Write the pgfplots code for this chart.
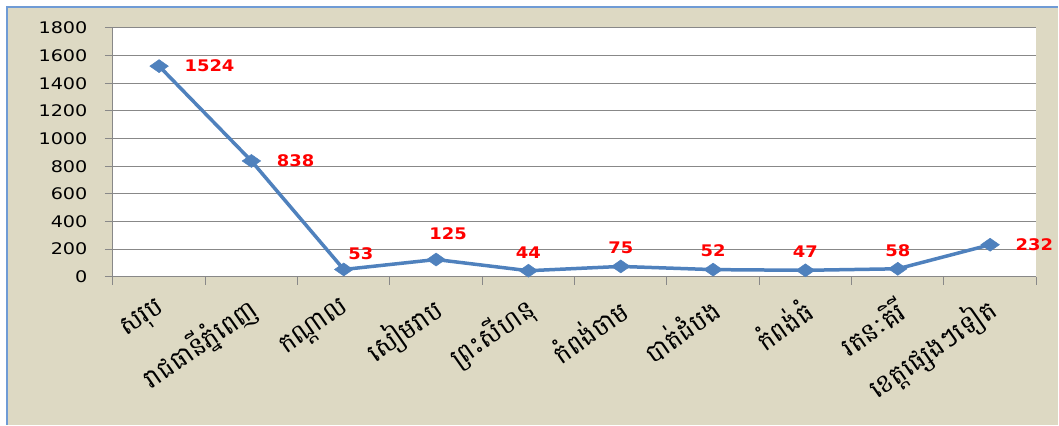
\documentclass[border=0pt]{standalone}
\usepackage{pgfplots}
\pgfplotsset{compat=1.18}
\usepackage{fontspec}
\setmainfont{DejaVu Sans}
\newfontfamily\numfont[FakeStretch=1.2]{DejaVu Sans}
\newfontfamily\lblfont[FakeStretch=1.12]{DejaVu Sans}
\newfontfamily\khmer[Script=Khmer]{Battambang}
\definecolor{bg}{HTML}{DDD9C3}
\definecolor{frame}{HTML}{6F9BD5}
\definecolor{line}{HTML}{4F81BD}
\definecolor{gridc}{HTML}{888888}
\pgfplotsset{/pgf/number format/1000 sep={}}
\begin{document}
\begin{tikzpicture}
\fill[white] (0,0) rectangle (1059pt,425pt);
\fill[bg] (7pt,0) rectangle (1059pt,418pt);
\draw[frame, line width=1.5pt] (7pt,0) -- (7pt,418pt) -- (1059pt,418pt);
\begin{axis}[
  at={(113pt,148pt)}, anchor=south west,
  scale only axis, width=924pt, height=249pt,
  xmin=-0.5, xmax=9.5, ymin=0, ymax=1800,
  ytick={0,200,...,1800},
  xtick={0,...,9},
  minor xtick={-0.5,0.5,...,9.5},
  xticklabels={{\khmer សរុប},{\khmer រាជធានីភ្នំពេញ},{\khmer កណ្ដាល},{\khmer សៀមរាប},{\khmer ព្រះសីហនុ},{\khmer កំពង់ចាម},{\khmer បាត់ដំបង},{\khmer កំពង់ធំ},{\khmer រតនៈគិរី},{\khmer ខេត្តផ្សេងៗទៀត}},
  axis lines*=left,
  axis line style={-, draw=gridc, line width=1pt},
  axis background/.style={fill=white},
  tick align=outside,
  major tick length=8pt, minor tick length=8pt,
  major x tick style={draw=none},
  minor x tick style={draw=gridc, line width=1pt},
  major y tick style={draw=gridc, line width=1pt},
  ymajorgrids, major grid style={draw=gridc, line width=1pt},
  /pgf/number format/assume math mode=true,
  yticklabel style={font=\numfont\fontsize{16}{16}\selectfont, xshift=-14pt},
  xticklabel style={font=\fontsize{26}{26}\selectfont, rotate=35, anchor=east, xshift=-6.3pt, yshift=-19.4pt},
  clip=false,
  every node near coord/.append style={font=\lblfont\bfseries\fontsize{16}{16}\selectfont, text=red},
]
\addplot[line, line width=3.5pt, mark=diamond*, mark size=6.5pt, mark options={solid, fill=line, draw=line, line width=0.5pt, xscale=1.9}] table {
x y
0 1524
1 838
2 53
3 125
4 44
5 75
6 52
7 47
8 58
9 232
};
\addplot[draw=none, mark=none, nodes near coords, every node near coord/.append style={anchor=west, xshift=22pt}] table {
x y
0 1524
1 838
9 232
};
\addplot[draw=none, mark=none, nodes near coords, every node near coord/.append style={anchor=south, xshift=17pt, yshift=6pt}] table {
x y
2 53
};
\addplot[draw=none, mark=none, nodes near coords, every node near coord/.append style={anchor=south, xshift=12pt, yshift=16pt}] table {
x y
3 125
};
\addplot[draw=none, mark=none, nodes near coords, every node near coord/.append style={anchor=south, yshift=9pt}] table {
x y
4 44
5 75
6 52
7 47
8 58
};
\end{axis}
\end{tikzpicture}
\end{document}
